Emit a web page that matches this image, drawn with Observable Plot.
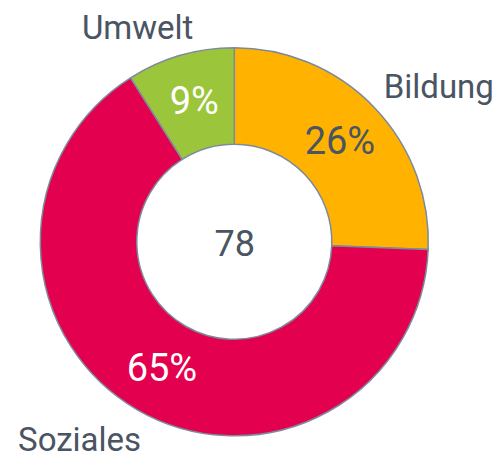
<!DOCTYPE html>
<html>
<head>
<meta charset="utf-8">
<script src="https://cdn.jsdelivr.net/npm/d3@7"></script>
<script src="https://cdn.jsdelivr.net/npm/@observablehq/plot@0.6"></script>
<style>
  html, body { margin: 0; padding: 0; background: #fff; }
  svg { display: block; }
</style>
</head>
<body>
<div id="chart"></div>
<script>
const categories = ["Bildung", "Soziales", "Umwelt"];
const values = [20, 51, 7];
const colors = ["#FFB300", "#E3004F", "#9BC53A"];
const labelColors = ["#4A5462", "#FFFFFF", "#FFFFFF"];

const total = d3.sum(values);
const pie = d3.pie().sort(null).value(d => d.value)(
  categories.map((c, i) => ({category: c, value: values[i], color: colors[i], labelColor: labelColors[i]}))
);
const rows = pie.map(p => {
  const mid = (p.startAngle + p.endAngle) / 2;
  return {
    ...p.data,
    startAngle: p.startAngle,
    endAngle: p.endAngle,
    mid,
    pct: Math.round(p.data.value / total * 100) + "%"
  };
});

const innerFrac = 0.5026;
const midR = (1 + innerFrac) / 2;
const outR = 1.1;
const textColor = "#4A5462";
const strokeColor = "#7D8A9C";

function arcs(index, scales, channels, dimensions, context) {
  const cx = scales.x(0), cy = scales.y(0);
  const R = scales.x(1) - scales.x(0);
  const arc = d3.arc().outerRadius(R).innerRadius(R * innerFrac);
  const g = d3.create("svg:g").attr("transform", `translate(${cx},${cy})`);
  g.selectAll("path").data(rows).join("path")
    .attr("d", d => arc(d))
    .attr("fill", d => d.color)
    .attr("stroke", strokeColor)
    .attr("stroke-width", 1.5)
    .attr("stroke-linejoin", "round");
  return g.node();
}

const outer = rows.map(d => ({
  ...d,
  lx: outR * Math.sin(d.mid),
  ly: outR * Math.cos(d.mid)
}));

const plot = Plot.plot({
  width: 503,
  height: 461,
  marginLeft: 40.3,
  marginRight: 74.7,
  marginTop: 47.8,
  marginBottom: 25.2,
  x: {domain: [-1, 1], axis: null},
  y: {domain: [-1, 1], axis: null},
  style: {fontFamily: "Roboto, sans-serif", background: "#fff"},
  marks: [
    arcs,
    Plot.text(rows, {
      x: d => midR * Math.sin(d.mid),
      y: d => midR * Math.cos(d.mid),
      text: "pct",
      fill: "labelColor",
      fontSize: 38,
      dy: 0
    }),
    Plot.text([total], {
      x: () => 0, y: () => 0, text: d => String(d),
      fill: textColor, fontSize: 36, dy: 2
    }),
    Plot.text(outer.filter(d => d.category === "Bildung"), {
      x: "lx", y: "ly", text: "category", fill: textColor, fontSize: 33,
      textAnchor: "start", lineAnchor: "bottom", dx: -5, dy: 4
    }),
    Plot.text(outer.filter(d => d.category === "Umwelt"), {
      x: "lx", y: "ly", text: "category", fill: textColor, fontSize: 33,
      textAnchor: "end", lineAnchor: "bottom", dx: 18, dy: 2
    }),
    Plot.text(outer.filter(d => d.category === "Soziales"), {
      x: "lx", y: "ly", text: "category", fill: textColor, fontSize: 33,
      textAnchor: "end", lineAnchor: "top", dx: 13, dy: 0
    })
  ]
});
document.getElementById("chart").appendChild(plot);
</script>
</body>
</html>
